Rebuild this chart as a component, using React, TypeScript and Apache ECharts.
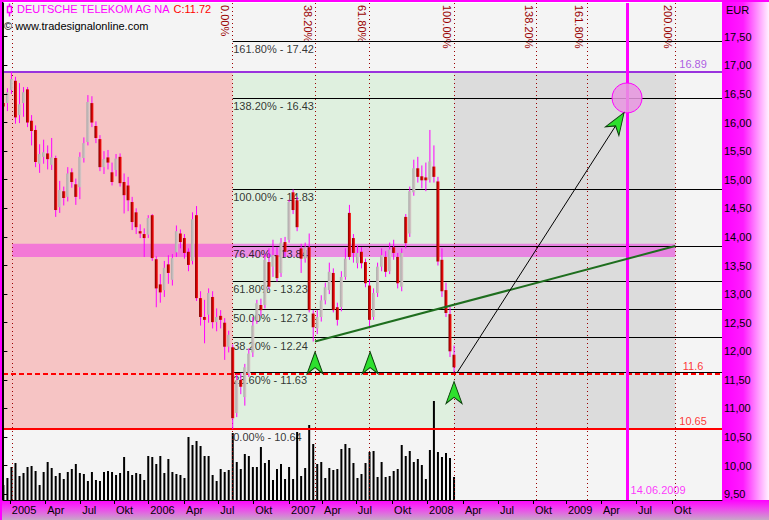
import React, { useEffect, useRef } from "react";
import * as echarts from "echarts";

const FONT = "'Liberation Sans', Arial, sans-serif";

// bars: [open, high, low, close] (EUR)
const ohlc: number[][] = [
  [16.34, 16.53, 16.08, 16.28], [16.34, 16.6, 16.2, 16.53], [16.57, 16.89, 16.5, 16.76], [16.73, 16.8, 15.98, 16.09],
  [16.13, 16.69, 15.99, 16.32], [16.34, 16.62, 16.1, 16.53], [16.58, 16.62, 15.92, 16.0], [16.03, 16.13, 15.6, 15.85],
  [15.87, 15.95, 15.22, 15.31], [15.28, 15.62, 15.12, 15.45], [15.4, 15.7, 15.28, 15.48], [15.46, 15.6, 15.18, 15.36],
  [15.26, 15.73, 15.17, 15.39], [15.38, 15.42, 14.35, 14.47], [14.52, 14.98, 14.42, 14.82], [14.8, 14.88, 14.55, 14.68],
  [14.7, 15.22, 14.62, 15.11], [15.13, 15.2, 14.86, 14.96], [14.92, 15.02, 14.56, 14.7], [14.87, 15.48, 14.66, 15.4],
  [15.38, 15.74, 15.3, 15.64], [15.66, 16.48, 15.6, 16.36], [16.34, 16.46, 15.92, 16.0], [15.94, 16.02, 15.64, 15.73],
  [15.71, 15.78, 15.15, 15.22], [15.22, 15.5, 15.1, 15.36], [15.39, 15.52, 15.18, 15.3], [15.13, 15.3, 14.9, 14.96],
  [15.17, 15.45, 15.06, 15.37], [15.4, 15.46, 14.88, 14.94], [14.96, 15.11, 14.41, 14.73], [14.9, 15.05, 14.45, 14.64],
  [14.61, 14.7, 14.12, 14.26], [14.43, 14.5, 14.05, 14.17], [14.1, 14.22, 13.98, 14.06], [14.05, 14.15, 13.65, 13.98],
  [14.04, 14.38, 13.98, 14.33], [14.38, 14.4, 13.58, 13.63], [13.61, 13.66, 12.77, 13.1], [13.17, 13.35, 12.85, 13.03],
  [13.07, 13.58, 12.95, 13.46], [13.52, 13.68, 13.18, 13.37], [13.25, 13.7, 13.15, 13.63], [13.73, 14.2, 13.65, 14.1],
  [14.06, 14.13, 13.8, 13.91], [13.98, 14.05, 13.62, 13.72], [13.74, 13.8, 13.4, 13.51], [13.58, 14.43, 13.52, 14.31],
  [14.38, 14.54, 12.88, 12.93], [12.93, 13.05, 12.45, 12.6], [12.6, 12.9, 12.14, 12.55], [12.64, 13.1, 12.5, 13.02],
  [12.95, 13.05, 12.4, 12.51], [12.51, 12.75, 12.35, 12.6], [12.62, 12.72, 12.4, 12.55], [12.5, 12.58, 11.85, 12.08],
  [12.08, 12.36, 11.98, 12.29], [12.07, 12.12, 10.64, 10.83], [10.92, 11.6, 10.85, 11.5], [11.5, 11.62, 11.25, 11.38],
  [11.2, 11.78, 11.05, 11.72], [11.61, 12.05, 11.55, 11.96], [11.98, 12.6, 11.9, 12.45], [12.54, 12.9, 12.48, 12.84],
  [12.81, 12.92, 12.62, 12.72], [12.81, 13.7, 12.75, 13.6], [13.56, 13.8, 13.08, 13.13], [13.48, 13.95, 13.3, 13.68],
  [13.68, 13.82, 13.22, 13.28], [13.37, 13.98, 13.3, 13.9], [13.91, 14.0, 13.65, 13.74], [13.95, 14.65, 13.9, 14.61],
  [14.78, 14.83, 14.4, 14.47], [14.64, 14.7, 14.1, 14.17], [13.8, 13.88, 13.37, 13.62], [13.62, 13.9, 13.55, 13.82],
  [13.82, 14.06, 12.68, 12.72], [12.66, 12.72, 12.17, 12.42], [12.4, 12.72, 12.3, 12.6], [12.6, 12.98, 12.52, 12.89],
  [12.89, 13.2, 12.82, 13.12], [13.07, 13.55, 13.0, 13.39], [13.37, 13.45, 12.68, 12.72], [12.77, 12.85, 12.45, 12.55],
  [12.77, 13.4, 12.7, 13.3], [13.3, 13.8, 13.25, 13.62], [14.42, 14.56, 13.6, 13.65], [13.98, 14.05, 13.55, 13.72],
  [13.54, 13.85, 13.45, 13.72], [13.74, 13.82, 13.45, 13.54], [13.56, 13.62, 13.12, 13.19], [13.15, 13.25, 12.4, 12.55],
  [12.6, 13.1, 12.55, 13.02], [13.02, 13.55, 12.95, 13.48], [13.48, 13.8, 13.4, 13.68], [13.65, 13.75, 13.3, 13.39],
  [13.4, 13.9, 13.35, 13.78], [13.82, 13.95, 13.6, 13.72], [13.65, 13.72, 13.1, 13.19], [13.13, 13.8, 13.05, 13.72],
  [14.35, 14.4, 13.8, 13.89], [14.06, 14.88, 14.0, 14.8], [14.78, 15.35, 14.72, 15.2], [15.2, 15.4, 14.95, 15.05],
  [15.06, 15.25, 14.85, 14.99], [15.04, 15.3, 14.8, 14.99], [15.0, 15.87, 14.95, 15.32], [15.23, 15.6, 14.95, 15.05],
  [14.97, 15.05, 13.5, 13.57], [13.6, 13.8, 12.95, 13.05], [13.07, 13.2, 12.6, 12.67], [12.65, 12.78, 11.9, 12.0],
  [11.94, 12.1, 11.63, 11.72],
];

// volume per bar (millions of shares)
const volume: number[] = [
  15, 22, 33, 37, 24, 27, 33, 34, 29, 15, 28, 38, 32, 24, 27, 21, 28, 31, 36, 27,
  26, 19, 28, 20, 19, 28, 29, 28, 25, 27, 43, 29, 25, 27, 26, 20, 44, 43, 36, 44,
  27, 41, 28, 26, 25, 22, 63, 55, 59, 54, 44, 44, 25, 19, 31, 28, 30,
  67, 38, 31, 46, 44, 33, 33, 53, 37, 40, 20, 31, 36, 21, 33, 21, 68, 24, 32, 75,
  56, 36, 38, 22, 32, 30, 31, 51, 56, 52, 37, 22, 26, 37, 48, 49, 23, 38, 23, 24,
  29, 31, 55, 44, 49, 38, 41, 35, 21, 50, 99, 48, 43, 47, 42, 23,
];

// x axis (bar index) ticks
const xTickBars = [1.6, 10.4, 19.1, 27.5, 36.0, 44.9, 53.4, 62.1, 71.0, 79.2, 87.6, 96.6, 105.3, 114.2, 122.9, 131.6, 139.8, 148.5, 157.2, 166.2];
const xTickLabels = ["2005", "Apr", "Jul", "Okt", "2006", "Apr", "Jul", "Okt", "2007", "Apr", "Jul", "Okt", "2008", "Apr", "Jul", "Okt", "2009", "Apr", "Jul", "Okt"];
const priceTicks = [9.5, 10, 10.5, 11, 11.5, 12, 12.5, 13, 13.5, 14, 14.5, 15, 15.5, 16, 16.5, 17, 17.5];

// Fibonacci price levels
const fibLevels = [17.42, 16.43, 14.83, 13.84, 13.23, 12.73, 12.24, 11.63, 10.64];
const fibNames = ["161.80%", "138.20%", "100.00%", "76.40%", "61.80%", "50.00%", "38.20%", "23.60%", "0.00%"];

// Fibonacci time lines (bar index)
const timeFibBars = [57, 77.6, 91.0, 112, 132.4, 145.0, 167];
const timeFibNames = ["0.00%", "38.20%", "61.80%", "100.00%", "138.20%", "161.80%", "200.00%"];

const highBar = 2.2;
const lowBar = 57;
const lastBar = 112;
const endBar = 167;
const swingHigh = 16.89;
const supportLevel = 11.6;
const swingLow = 10.65;
const zoneBand = [13.65, 13.88];
const trendLine = [[77.45, 12.17], [167, 13.84]];
const projectionLine = [[112.8, 11.63], [154.24, 16.17]];
const targetPoint = [155, 16.43];
const targetBar = 155;
const targetDate = "14.06.2009";
const upArrows = [[77.45, 11.99], [91.15, 11.99], [112, 11.47]];
const targetArrow = [152.78, 16.01];
const levelLabelBar = 171.4;

const X_MIN = -0.1;
const X_MAX = 178.6;
const Y_MIN = 9.4;
const Y_MAX = 18.09;
const VOL_MAX = 497;

const ARROW = "path://M8,0L16,21L8,15L0,21Z";

export default function App() {
  const ref = useRef<HTMLDivElement>(null);

  useEffect(() => {
    if (!ref.current) return;
    const chart = echarts.init(ref.current, undefined, { renderer: "svg" });
    const LG = echarts.graphic.LinearGradient;

    const option: any = {
      animation: false,
      backgroundColor: "#ffffff",
      textStyle: { fontFamily: FONT },
      title: [
        {
          left: 17, top: 3, padding: 0,
          text: "{a|DEUTSCHE TELEKOM AG NA} {b|C:11.72}",
          textStyle: {
            fontSize: 11, fontWeight: "normal", fontFamily: FONT,
            rich: {
              a: { color: "#ff00ff", fontSize: 11, fontFamily: FONT },
              b: { color: "#ff0000", fontSize: 11, fontFamily: FONT },
            },
          },
        },
        {
          left: 4, top: 20, padding: 0,
          text: "© www.tradesignalonline.com",
          textStyle: { fontSize: 11, fontWeight: "normal", color: "#000", fontFamily: FONT },
        },
        {
          left: 726, top: 4, padding: 0,
          text: "EUR",
          textStyle: { fontSize: 11, fontWeight: "normal", color: "#000", fontFamily: FONT },
        },
      ],
      graphic: [
        {
          type: "rect", z: 0, silent: true,
          shape: { x: 722, y: 0, width: 47, height: 500 },
          style: { fill: new LG(0, 0, 1, 0, [{ offset: 0, color: "#ff00ff" }, { offset: 0.45, color: "#ff1cff" }, { offset: 1, color: "#fff2ff" }]) },
        },
        {
          type: "rect", z: 0, silent: true,
          shape: { x: 0, y: 500, width: 769, height: 20 },
          style: { fill: new LG(0, 0, 0, 1, [{ offset: 0, color: "#ff00ff" }, { offset: 0.4, color: "#f040f0" }, { offset: 1, color: "#c8a8c8" }]) },
        },
        { type: "rect", z: 100, silent: true, shape: { x: 0, y: 0, width: 769, height: 2 }, style: { fill: "#ff00ff" } },
        { type: "rect", z: 100, silent: true, shape: { x: 0, y: 0, width: 2, height: 520 }, style: { fill: "#ff00ff" } },
        { type: "line", z: 100, silent: true, shape: { x1: 2.5, y1: 2, x2: 2.5, y2: 500 }, style: { stroke: "#000", lineWidth: 1 } },
        { type: "line", z: 100, silent: true, shape: { x1: 9.5, y1: 3.5, x2: 9.5, y2: 16.5 }, style: { stroke: "#ff00ff", lineWidth: 1.5 } },
        { type: "rect", z: 101, silent: true, shape: { x: 7.5, y: 6.5, width: 4, height: 6 }, style: { fill: "#f4f4f4", stroke: "#ff00ff", lineWidth: 1.5 } },
      ],
      grid: {
        left: 3, right: 47, top: 3, bottom: 20,
        show: true, backgroundColor: "#f4f4f4", borderWidth: 0,
      },
      xAxis: {
        type: "value", min: X_MIN, max: X_MAX, position: "bottom", z: 5,
        axisLine: { show: true, onZero: false, lineStyle: { color: "#000", width: 1 } },
        axisTick: { show: true, customValues: xTickBars, length: 4, lineStyle: { color: "#000" } },
        axisLabel: {
          show: true, customValues: xTickBars, align: "left", margin: 4, padding: [0, 0, 0, 2],
          color: "#000", fontSize: 11, fontFamily: FONT,
          formatter: (v: number) => {
            const k = xTickBars.findIndex((b) => Math.abs(b - v) < 1e-6);
            return k >= 0 ? xTickLabels[k] : "";
          },
        },
        splitLine: { show: false },
      },
      yAxis: [
        {
          type: "value", min: Y_MIN, max: Y_MAX, position: "right", z: 5,
          axisLine: { show: true, lineStyle: { color: "#000", width: 1 } },
          axisTick: { show: true, customValues: priceTicks, length: 4, lineStyle: { color: "#000" } },
          axisLabel: {
            show: true, customValues: priceTicks, margin: 2, color: "#000", fontSize: 11, fontFamily: FONT,
            formatter: (v: number) => v.toFixed(2).replace(".", ","),
          },
          splitLine: { show: false },
        },
        { type: "value", min: 0, max: VOL_MAX, show: false, splitLine: { show: false } },
      ],
      series: [
        // zones
        {
          type: "line", data: [], z: 1, silent: true,
          markArea: {
            silent: true,
            data: [
              [{ xAxis: X_MIN, yAxis: swingLow, itemStyle: { color: "#f6c4c4", opacity: 1 } }, { xAxis: lowBar, yAxis: swingHigh }],
              [{ xAxis: lowBar, yAxis: swingLow, itemStyle: { color: "#dff0df", opacity: 1 } }, { xAxis: lastBar, yAxis: swingHigh }],
              [{ xAxis: lastBar, yAxis: swingLow, itemStyle: { color: "#dcdcdc", opacity: 1 } }, { xAxis: endBar, yAxis: swingHigh }],
            ],
          },
        },
        // fib level lines + time lines
        {
          type: "line", data: [], z: 2, silent: true,
          markLine: {
            silent: true, symbol: ["none", "none"], label: { show: false },
            data: [
              ...timeFibBars.map((b) => ({ xAxis: b, lineStyle: { color: "#990000", width: 1, type: [1, 3] } })),
              { xAxis: highBar, lineStyle: { color: "#990000", width: 1, type: [1, 3] } },
              ...fibLevels.map((v) => [
                { coord: [lowBar, v], lineStyle: { color: "#000", width: 1, type: "solid" } },
                { coord: [X_MAX, v] },
              ]),
            ],
          },
        },
        // fib labels
        {
          type: "scatter", z: 3, silent: true, symbolSize: 1,
          itemStyle: { color: "rgba(0,0,0,0)" },
          data: fibLevels.map((v) => [lowBar, v]),
          label: {
            show: true, position: "right", distance: 0, offset: [0, 8],
            color: "#000", fontSize: 11, fontFamily: FONT,
            formatter: (p: any) => `${fibNames[p.dataIndex]} - ${fibLevels[p.dataIndex].toFixed(2)}`,
          },
        },
        // time fib labels
        {
          type: "custom", z: 3, silent: true, clip: false,
          data: timeFibBars.map((b) => [b, Y_MAX]),
          encode: { x: 0, y: 1 },
          renderItem: (params: any, api: any) => {
            const p = api.coord([api.value(0), api.value(1)]);
            return {
              type: "text", x: p[0] - 7.5, y: p[1] + 2, rotation: -Math.PI / 2,
              style: {
                text: timeFibNames[params.dataIndex], fill: "#990000",
                font: `11px ${FONT}`, align: "left", verticalAlign: "middle",
                textAlign: "left", textVerticalAlign: "middle",
              },
            };
          },
        },
        // volume
        {
          type: "bar", xAxisIndex: 0, yAxisIndex: 1, z: 4, silent: true,
          data: volume.map((v, i) => [i, v]), barWidth: 2,
          itemStyle: { color: "#000" },
        },
        // candles
        {
          type: "custom", z: 5, silent: true, clip: true,
          data: ohlc.map((d, i) => [i, d[0], d[1], d[2], d[3]]),
          encode: { x: 0, y: [1, 2, 3, 4] },
          renderItem: (params: any, api: any) => {
            const i = api.value(0);
            const o = api.value(1), h = api.value(2), l = api.value(3), c = api.value(4);
            const pO = api.coord([i, o]);
            const pC = api.coord([i, c]);
            const pH = api.coord([i, h]);
            const pL = api.coord([i, l]);
            const x = pO[0];
            const up = c >= o;
            const top = Math.min(pO[1], pC[1]);
            const bot = Math.max(pO[1], pC[1]);
            const fill = up
              ? new LG(0, 0, 1, 0, [{ offset: 0, color: "#a8a8a8" }, { offset: 1, color: "#dccaca" }])
              : new LG(0, 0, 1, 0, [{ offset: 0, color: "#7a0000" }, { offset: 0.5, color: "#cc0000" }, { offset: 1, color: "#ff2020" }]);
            return {
              type: "group",
              children: [
                { type: "line", shape: { x1: x, y1: pH[1], x2: x, y2: pL[1] }, style: { stroke: "#ff00ff", lineWidth: 1 } },
                { type: "rect", shape: { x: x - 1.5, y: top, width: 3, height: Math.max(1, bot - top) }, style: { fill } },
              ],
            };
          },
        },
        // swing high / support / swing low lines
        {
          type: "line", data: [], z: 6, silent: true,
          markLine: {
            silent: true, symbol: ["none", "none"], label: { show: false },
            data: [
              { yAxis: swingHigh, lineStyle: { color: "#9933dd", width: 2, type: "solid" } },
              { yAxis: swingLow, lineStyle: { color: "#ff0000", width: 2, type: "solid" } },
              { yAxis: supportLevel, lineStyle: { color: "#ff0000", width: 2, type: [5, 3] } },
            ],
          },
        },
        {
          type: "scatter", z: 6, silent: true, symbolSize: 1,
          itemStyle: { color: "rgba(0,0,0,0)" },
          data: [
            { value: [levelLabelBar, swingHigh], label: { color: "#9933dd" } },
            { value: [levelLabelBar, supportLevel], label: { color: "#ff0000" } },
            { value: [levelLabelBar, swingLow], label: { color: "#ff0000" } },
          ],
          label: {
            show: true, position: "top", distance: 2, fontSize: 11, fontFamily: FONT,
            formatter: (p: any) => String(p.value[1]),
          },
        },
        // trend line
        {
          type: "line", z: 6, silent: true, symbol: "none",
          data: trendLine, lineStyle: { color: "#1e6e1e", width: 2 },
        },
        // projection line
        {
          type: "line", z: 6, silent: true, symbol: "none",
          data: projectionLine, lineStyle: { color: "#000", width: 1 },
        },
        // magenta zone band
        {
          type: "line", data: [], z: 7, silent: true,
          markArea: {
            silent: true,
            data: [[
              { xAxis: highBar, yAxis: zoneBand[0], itemStyle: { color: "rgba(240,60,230,0.55)", opacity: 1 } },
              { xAxis: endBar, yAxis: zoneBand[1] },
            ]],
          },
        },
        // target circle
        {
          type: "scatter", z: 8, silent: true, symbolSize: 30,
          data: [targetPoint],
          itemStyle: { color: "rgba(232,150,225,0.85)", borderColor: "#ff00ff", borderWidth: 1, opacity: 1 },
        },
        // target date line
        {
          type: "line", data: [], z: 9, silent: true,
          markLine: {
            silent: true, symbol: ["none", "none"], label: { show: false },
            data: [{ xAxis: targetBar, lineStyle: { color: "#ff00ff", width: 3, type: "solid" } }],
          },
        },
        {
          type: "scatter", z: 9, silent: true, symbolSize: 1,
          itemStyle: { color: "rgba(0,0,0,0)" },
          data: [[targetBar, Y_MIN]],
          label: {
            show: true, position: "right", distance: 2, offset: [1, -10],
            color: "#ff00ff", fontSize: 11, fontFamily: FONT, formatter: () => targetDate,
          },
        },
        // arrows
        {
          type: "scatter", z: 10, silent: true, symbol: ARROW, symbolSize: [16, 22],
          symbolKeepAspect: false, symbolOffset: [0, "50%"],
          data: upArrows,
          itemStyle: { color: "#2ee02e", borderColor: "#0b3d0b", borderWidth: 1, opacity: 1 },
        },
        {
          type: "scatter", z: 10, silent: true, symbol: ARROW, symbolSize: [16, 22],
          symbolKeepAspect: false, symbolRotate: -32.6,
          data: [targetArrow],
          itemStyle: { color: "#2ee02e", borderColor: "#0b3d0b", borderWidth: 1, opacity: 1 },
        },
      ],
    };

    chart.setOption(option);
    return () => chart.dispose();
  }, []);

  return (
    <div
      ref={ref}
      style={{ position: "absolute", left: 0, top: 0, width: 769, height: 520 }}
    />
  );
}
